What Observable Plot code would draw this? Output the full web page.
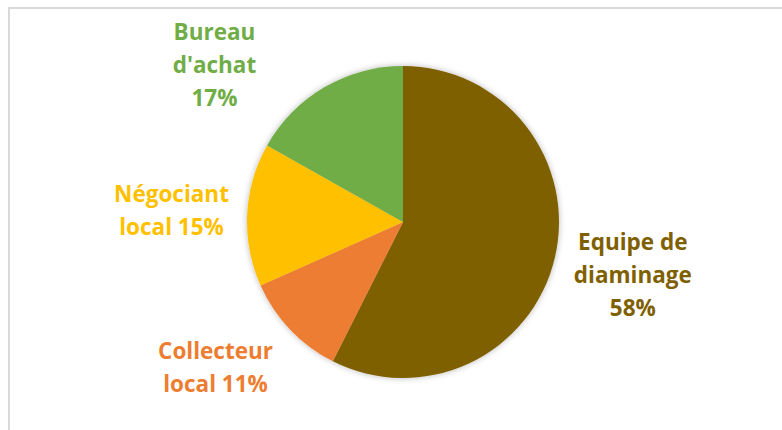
<!DOCTYPE html>
<html><head><meta charset="utf-8">
<script src="https://cdn.jsdelivr.net/npm/d3@7"></script>
<script src="https://cdn.jsdelivr.net/npm/@observablehq/plot@0.6"></script>
<style>
html,body{margin:0;padding:0;background:#fff;width:782px;height:430px;overflow:hidden}
#frame{position:absolute;left:8px;top:7px;width:820px;height:460px;border-top:2px solid #d9d9d9;border-left:2px solid #d9d9d9;box-sizing:border-box}
#chart{position:absolute;left:0;top:0}
</style></head><body>
<div id="frame"></div><div id="chart"></div>
<script>
// Data (clockwise from 12 o'clock)
const categories = ["Equipe de diaminage", "Collecteur local", "Négociant local", "Bureau d'achat"];
const shares = [58, 11, 15, 17];
const labelTexts = ["Equipe de\ndiaminage\n58%", "Collecteur\nlocal 11%", "Négociant\nlocal 15%", "Bureau\nd'achat\n17%"];
const colors = ["#7f6000", "#ed7d31", "#ffc000", "#70ad47"];
// Label anchor points, in pie-radius units relative to the centre
const labelX = [1.47, -1.205, -1.487, -1.212];
const labelY = [0.346, 0.936, -0.067, -1.003];

const data = categories.map((c, i) => ({category: c, share: shares[i], label: labelTexts[i], lx: labelX[i], ly: labelY[i]}));
const arcs = d3.pie().sort(null).value(d => d.share)(data);

function pieMark(index, scales, values, dimensions, context) {
  const cx = scales.x(0), cy = scales.y(0);
  const r = scales.x(1) - scales.x(0);
  const svg = d3.create("svg:g");
  const defs = svg.append("defs");
  const f = defs.append("filter").attr("id", "pieShadow").attr("x", "-20%").attr("y", "-20%").attr("width", "140%").attr("height", "140%");
  f.append("feDropShadow").attr("dx", 0).attr("dy", 0).attr("stdDeviation", 3).attr("flood-color", "#000").attr("flood-opacity", 0.28);
  const g = svg.append("g").attr("transform", `translate(${cx},${cy})`).attr("filter", "url(#pieShadow)");
  const arc = d3.arc().innerRadius(0).outerRadius(r);
  g.selectAll("path").data(arcs).join("path")
    .attr("d", arc)
    .attr("fill", d => scales.color ? scales.color(d.data.category) : colors[categories.indexOf(d.data.category)]);
  return svg.node();
}

const chart = Plot.plot({
  width: 782,
  height: 430,
  margin: 0,
  x: {domain: [-1, 1], range: [247, 559], axis: null},
  y: {domain: [-1, 1], range: [66, 378], axis: null},
  color: {domain: categories, range: colors},
  style: {background: "transparent", overflow: "visible"},
  marks: [
    pieMark,
    Plot.text(data, {
      x: "lx", y: "ly", text: "label", fill: "category",
      fontFamily: "'Open Sans', 'Noto Sans', sans-serif",
      fontWeight: "bold", fontSize: 22.5, lineHeight: 1.467, textAnchor: "middle", dy: -4
    })
  ]
});
document.getElementById("chart").appendChild(chart);
</script>
</body></html>
